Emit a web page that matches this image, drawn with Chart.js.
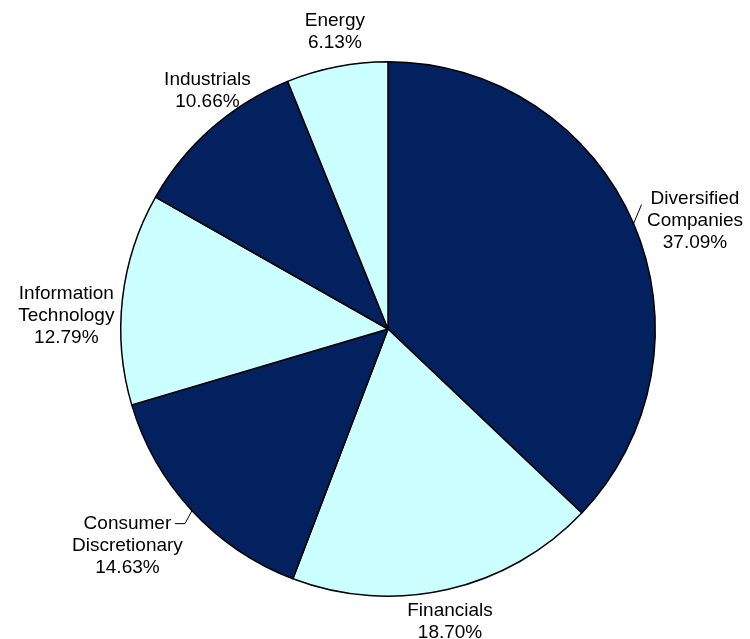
<!DOCTYPE html>
<html>
<head>
<meta charset="utf-8">
<script src="https://cdn.jsdelivr.net/npm/chart.js@4.4.0/dist/chart.umd.min.js"></script>
<style>
  html, body { margin: 0; padding: 0; background: #fff; }
  #wrap { width: 750px; height: 639px; }
</style>
</head>
<body>
<div id="wrap"><canvas id="sectorPie" width="750" height="639"></canvas></div>
<script>
const sectors = ['Diversified\nCompanies', 'Financials', 'Consumer\nDiscretionary', 'Information\nTechnology', 'Industrials', 'Energy'];
const weights = [37.09, 18.70, 14.63, 12.79, 10.66, 6.13];
const sliceColors = ['#03215E', '#CCFFFF', '#03215E', '#CCFFFF', '#03215E', '#CCFFFF'];
const withLeader = [true, false, true, false, false, false];

const FONT = '19px "Liberation Sans", Arial, sans-serif';
const LINE_H = 22;
// small hand nudges so labels sit where the original's best-fit put them
const nudge = [[-4, 25], [-5, -2], [-8, -17], [-1, 23], [28, 0], [4, -4]];

// draws the outside labels (name + percent), with a short leader line where needed
const outsideLabels = {
  id: 'outsideLabels',
  afterDatasetsDraw(chart) {
    const ctx = chart.ctx;
    const arcs = chart.getDatasetMeta(0).data;
    ctx.save();
    ctx.font = FONT;
    ctx.fillStyle = '#000';
    ctx.textAlign = 'center';
    ctx.textBaseline = 'middle';
    arcs.forEach((arc, i) => {
      const lines = sectors[i].split('\n').concat(weights[i].toFixed(2) + '%');
      const w = Math.max(...lines.map(l => ctx.measureText(l).width));
      const h = lines.length * LINE_H;
      const mid = (arc.startAngle + arc.endAngle) / 2;
      const ux = Math.cos(mid), uy = Math.sin(mid);
      const gap = withLeader[i] ? 14 : 4;
      const ext = Math.abs(ux) * w / 2 + Math.abs(uy) * h / 2;
      const d = arc.outerRadius + gap + ext;
      const tx = arc.x + ux * d + nudge[i][0], ty = arc.y + uy * d + nudge[i][1];
      lines.forEach((l, k) => {
        ctx.fillText(l, tx, ty - h / 2 + LINE_H / 2 + k * LINE_H);
      });
      if (withLeader[i]) {
        const ex = arc.x + ux * arc.outerRadius, ey = arc.y + uy * arc.outerRadius;
        ctx.beginPath();
        ctx.strokeStyle = '#000';
        ctx.lineWidth = 1;
        ctx.moveTo(ex, ey);
        if (ux > 0) {
          ctx.lineTo(ex + 8, ey - 19);
        } else {
          ctx.lineTo(ex - 7, ey + 13);
          ctx.lineTo(ex - 17, ey + 13);
        }
        ctx.stroke();
      }
    });
    ctx.restore();
  }
};

new Chart(document.getElementById('sectorPie'), {
  type: 'pie',
  data: {
    labels: sectors,
    datasets: [{
      data: weights,
      backgroundColor: sliceColors,
      borderColor: '#000',
      borderWidth: 1.5
    }]
  },
  options: {
    responsive: false,
    animation: false,
    layout: { padding: { top: 61, bottom: 42, left: 120, right: 94 } },
    plugins: {
      legend: { display: false },
      tooltip: { enabled: false }
    }
  },
  plugins: [outsideLabels]
});
</script>
</body>
</html>
